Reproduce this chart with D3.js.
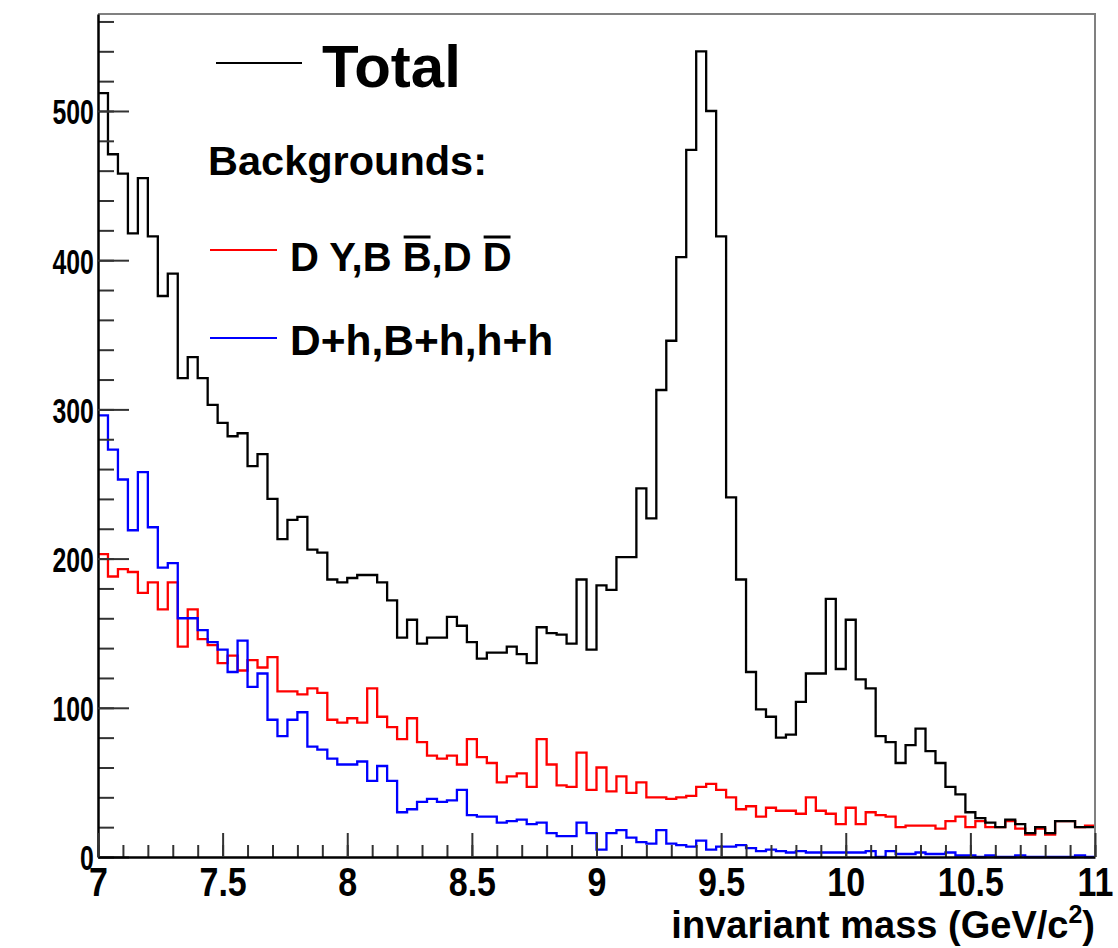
<!DOCTYPE html>
<html>
<head>
<meta charset="utf-8">
<script src="https://cdn.jsdelivr.net/npm/d3@7"></script>
<style>
  body { margin: 0; background: #fff; }
  svg { display: block; }
  text { font-family: "Liberation Sans", Arial, sans-serif; font-weight: bold; fill: #000; }
</style>
</head>
<body>
<svg width="1118" height="948"></svg>
<script>
const width = 1118;
const height = 948;

// 100 bins of 0.04 GeV between 7 and 11
const xMin = 7;
const binWidth = 0.04;

const total = [
  512, 471, 458, 418, 455, 416, 376, 391, 321, 335,
  321, 303, 291, 282, 284, 262, 270, 240, 213, 226,
  228, 206, 204, 186, 184, 187, 189, 189, 184, 172,
  147, 159, 143, 147, 147, 161, 155, 144, 133, 137,
  137, 141, 136, 130, 154, 150, 149, 143, 186, 139,
  182, 179, 201, 201, 247, 227, 313, 346, 402, 474,
  540, 500, 416, 241, 186, 124, 99, 94, 80, 82,
  104, 123, 123, 173, 126, 159, 119, 113, 81, 77,
  63, 75, 86, 71, 63, 47, 42, 30, 26, 23,
  20, 25, 22, 16, 20, 16, 24, 24, 20, 20
];
const bgPairs = [
  203, 188, 193, 191, 177, 184, 166, 184, 141, 166,
  146, 142, 130, 135, 125, 132, 127, 134, 111, 111,
  109, 113, 110, 92, 90, 93, 90, 113, 94, 87,
  79, 93, 77, 68, 66, 68, 62, 79, 67, 63,
  50, 54, 56, 47, 79, 62, 48, 47, 70, 45,
  60, 44, 54, 43, 50, 40, 40, 39, 40, 41,
  47, 49, 45, 40, 32, 34, 27, 33, 31, 31,
  29, 40, 31, 29, 22, 33, 22, 30, 28, 27,
  20, 21, 21, 21, 19, 24, 27, 20, 24, 20,
  20, 24, 19, 15, 19, 15, 24, 24, 20, 21
];
const bgHadrons = [
  296, 273, 253, 219, 258, 221, 194, 197, 160, 160,
  152, 144, 139, 124, 145, 114, 123, 92, 81, 92,
  97, 74, 72, 66, 62, 62, 64, 51, 61, 51,
  30, 32, 37, 39, 37, 38, 45, 28, 27, 27,
  23, 24, 25, 22, 23, 16, 14, 14, 23, 16,
  5, 16, 18, 13, 10, 9, 18, 9, 8, 7,
  11, 5, 7, 7, 8, 6, 4, 5, 4, 3,
  4, 3, 3, 3, 3, 3, 3, 4, 0, 4,
  2, 2, 3, 2, 2, 3, 1, 1, 0, 1,
  0, 0, 1, 0, 0, 0, 0, 0, 1, 0
];

const yMajor = [0, 100, 200, 300, 400, 500];
const xMajor = [7, 7.5, 8, 8.5, 9, 9.5, 10, 10.5, 11];

const series = [
  { values: bgPairs, color: "#ff0000" },
  { values: bgHadrons, color: "#0000ff" },
  { values: total, color: "#000000" },
];

const frame = { left: 98, right: 1095, top: 14, bottom: 857 };

const x = d3.scaleLinear().domain([7, 11]).range([frame.left, frame.right]);
const y = d3.scaleLinear().domain([0, 565]).range([frame.bottom, frame.top]);

const svg = d3.select("svg");

// histogram outlines
const toPoints = (values) => {
  const pts = values.map((v, i) => [xMin + i * binWidth, v]);
  pts.push([xMin + values.length * binWidth, values[values.length - 1]]);
  return pts;
};
const line = d3.line()
  .x((d) => x(d[0]))
  .y((d) => y(d[1]))
  .curve(d3.curveStepAfter);

svg.append("g")
  .selectAll("path")
  .data(series)
  .join("path")
  .attr("fill", "none")
  .attr("stroke", (d) => d.color)
  .attr("stroke-width", 2.3)
  .attr("d", (d) => line(toPoints(d.values)));

// frame: top and right in grey
svg.append("path")
  .attr("fill", "none")
  .attr("stroke", "#808080")
  .attr("stroke-width", 2)
  .attr("d", `M${frame.left},${frame.top}H${frame.right}V${frame.bottom}`);

// y axis
const yMinor = d3.range(0, 561, 20);
svg.append("g")
  .attr("transform", `translate(${frame.left},0)`)
  .call(d3.axisLeft(y).tickValues(yMinor).tickSizeInner(-16).tickSizeOuter(0).tickFormat(""))
  .call((g) => g.select(".domain").remove())
  .call((g) => g.selectAll(".tick line").attr("stroke", "#333").attr("stroke-width", 2));

const yAxis = svg.append("g")
  .attr("transform", `translate(${frame.left},0)`)
  .call(d3.axisLeft(y).tickValues(yMajor).tickSizeInner(-31).tickSizeOuter(0).tickPadding(6).tickFormat(d3.format("d")))
  .call((g) => g.select(".domain").attr("stroke", "#000").attr("stroke-width", 2.5))
  .call((g) => g.selectAll(".tick line").attr("stroke", "#333").attr("stroke-width", 2));
yAxis.selectAll(".tick text")
  .style("font-size", "36px")
  .attr("dy", "0.36em")
  .attr("transform", "scale(0.69,1)");

// x axis
const xMinor = d3.range(70, 111, 1).map((d) => d / 10);
svg.append("g")
  .attr("transform", `translate(0,${frame.bottom})`)
  .call(d3.axisBottom(x).tickValues(xMinor).tickSizeInner(-12).tickSizeOuter(0).tickFormat(""))
  .call((g) => g.select(".domain").remove())
  .call((g) => g.selectAll(".tick line").attr("stroke", "#333").attr("stroke-width", 2));

const xAxis = svg.append("g")
  .attr("transform", `translate(0,${frame.bottom})`)
  .call(d3.axisBottom(x).tickValues(xMajor).tickSizeInner(-24).tickSizeOuter(0).tickPadding(10).tickFormat((d) => d))
  .call((g) => g.select(".domain").attr("stroke", "#000").attr("stroke-width", 2.5))
  .call((g) => g.selectAll(".tick line").attr("stroke", "#333").attr("stroke-width", 2));
xAxis.selectAll(".tick text")
  .style("font-size", "40px")
  .attr("dy", "0.72em")
  .attr("transform", "scale(0.85,1)");

// axis title
const title = svg.append("text")
  .attr("x", frame.right)
  .attr("y", 938)
  .attr("text-anchor", "end")
  .style("font-size", "38px");
title.append("tspan").text("invariant mass (GeV/c");
title.append("tspan").attr("dy", -15).style("font-size", "25px").text("2");
title.append("tspan").attr("dy", 15).text(")");

// legend
const legend = svg.append("g");
legend.append("line")
  .attr("x1", 216).attr("x2", 302).attr("y1", 63).attr("y2", 63)
  .attr("stroke", "#000").attr("stroke-width", 2);
legend.append("text").attr("x", 322).attr("y", 87).style("font-size", "60px").text("Total");
legend.append("text").attr("x", 208).attr("y", 175).style("font-size", "41.5px").text("Backgrounds:");

legend.append("line")
  .attr("x1", 210).attr("x2", 277).attr("y1", 250).attr("y2", 250)
  .attr("stroke", "#ff0000").attr("stroke-width", 2);
const pairsLabel = legend.append("text").attr("x", 290).attr("y", 271).style("font-size", "40px")
  .text("D Y,B B,D D");

legend.append("line")
  .attr("x1", 210).attr("x2", 277).attr("y1", 338).attr("y2", 338)
  .attr("stroke", "#0000ff").attr("stroke-width", 2);
legend.append("text").attr("x", 290).attr("y", 355).style("font-size", "42.5px").text("D+h,B+h,h+h");

// overlines on the anti-particles (second B and second D)
const node = pairsLabel.node();
[6, 10].forEach((i) => {
  const x0 = node.getStartPositionOfChar(i).x;
  const x1 = node.getEndPositionOfChar(i).x;
  legend.append("line")
    .attr("x1", x0 + 1).attr("x2", x1 - 1)
    .attr("y1", 237).attr("y2", 237)
    .attr("stroke", "#000").attr("stroke-width", 3);
});
</script>
</body>
</html>
